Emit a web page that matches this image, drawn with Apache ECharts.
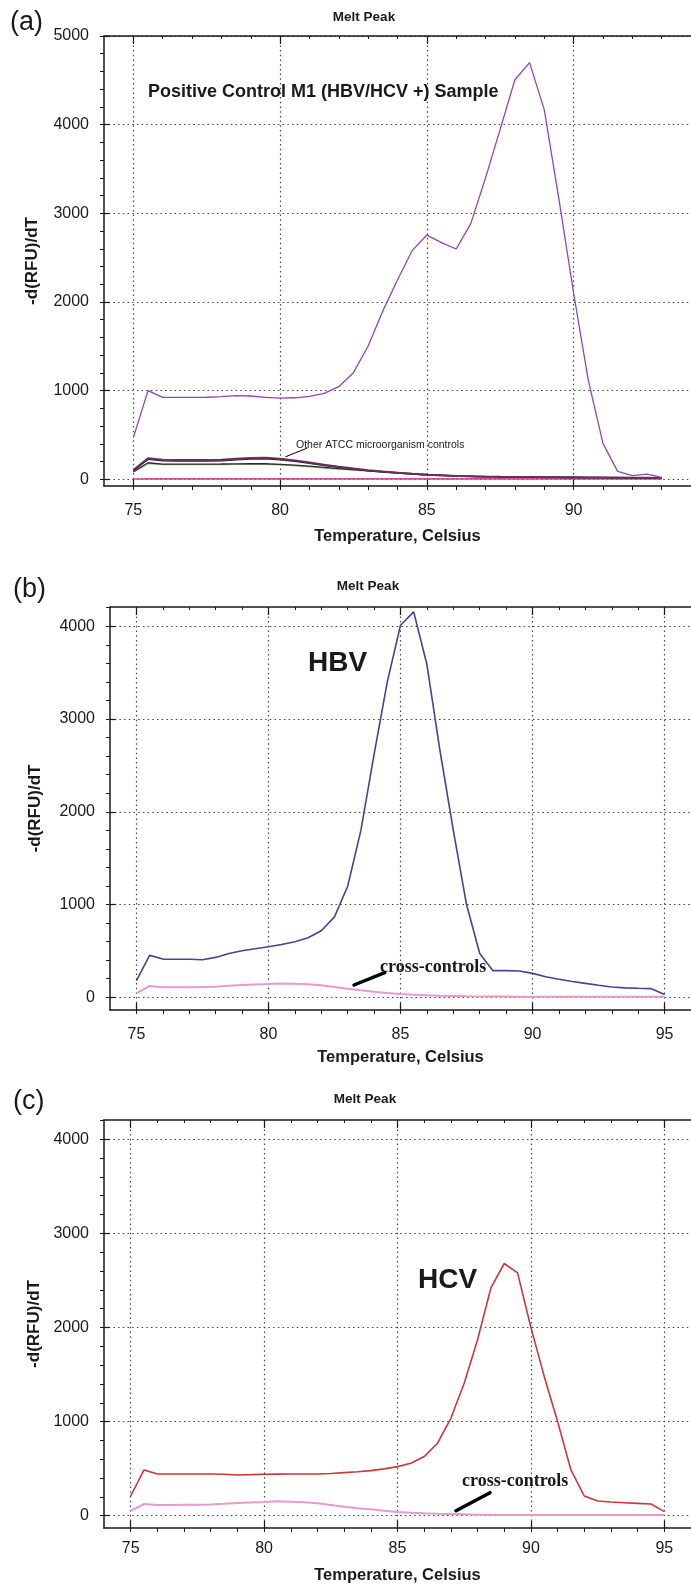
<!DOCTYPE html>
<html><head><meta charset="utf-8">
<script src="https://cdn.jsdelivr.net/npm/echarts@6/dist/echarts.min.js"></script>
<style>html,body{margin:0;padding:0;background:#fff}#c{width:691px;height:1587px}</style>
</head><body><div id="c"></div>
<script>
// ---------- DATA ----------
const tempsA = [75,75.5,76,76.5,77,77.5,78,78.5,79,79.5,80,80.5,81,81.5,82,82.5,83,83.5,84,84.5,85,85.5,86,86.5,87,87.5,88,88.5,89,89.5,90,90.5,91,91.5,92,92.5,93];
const positiveM1 = [470,1000,925,925,925,926,932,945,940,925,917,920,935,970,1045,1203,1504,1900,2248,2580,2755,2670,2598,2887,3400,3950,4507,4700,4170,3160,2100,1120,406,90,41,60,23];
const atccMaroon = [105,237,220,218,218,218,222,232,242,244,232,214,190,165,142,122,103,88,75,62,52,45,38,34,30,28,27,26,25,24,22,21,20,19,18,17,16];
const atccDark   = [98,225,208,206,206,206,210,220,229,231,220,203,180,156,134,115,97,82,70,58,48,42,36,32,28,26,25,24,23,22,21,20,19,18,17,16,15];
const atccBlack  = [86,187,172,172,172,172,173,175,176,176,170,160,148,135,122,110,98,86,75,64,55,47,40,35,32,30,28,27,26,25,24,23,22,21,20,19,18];
const atccGreen  = [80,178,165,165,165,165,166,168,169,169,163,153,140,128,116,104,93,82,71,61,52,45,38,33,30,28,26,25,24,23,22,21,20,19,18,17,16];
const atccPink   = [4,6,5,5,5,5,5,5,5,5,5,5,5,5,5,5,5,5,5,5,5,5,5,5,5,5,5,5,5,5,5,5,5,5,5,5,5];

const tempsBC = [75,75.5,76,76.5,77,77.5,78,78.5,79,79.5,80,80.5,81,81.5,82,82.5,83,83.5,84,84.5,85,85.5,86,86.5,87,87.5,88,88.5,89,89.5,90,90.5,91,91.5,92,92.5,93,93.5,94,94.5,95];
const hbv      = [179,452,412,410,410,405,430,473,502,523,545,570,599,642,717,867,1197,1799,2620,3401,4011,4155,3588,2650,1800,1000,473,287,287,284,258,222,194,170,150,130,111,102,97,93,29];
const hbvCross = [43,122,108,108,108,110,115,124,133,139,143,150,147,140,129,112,93,76,61,47,36,28,22,17,14,11,9,8,8,7,7,7,7,6,6,6,6,6,6,6,5];
const hcv      = [209,486,443,443,443,443,443,440,433,436,440,442,443,443,443,448,457,466,479,497,521,557,628,770,1035,1408,1869,2420,2680,2580,2000,1480,1000,486,209,156,145,138,131,124,43];
const hcvCross = [50,124,113,113,115,117,120,127,135,140,145,152,149,142,131,114,96,80,67,52,39,31,25,21,18,14,11,9,8,7,7,7,7,7,7,7,7,7,7,7,6];

const xTicksA  = [75,80,85,90];
const xTicksBC = [75,80,85,90,95];
const yTicksA  = [0,1000,2000,3000,4000,5000];
const yTicksBC = [0,1000,2000,3000,4000];

// ---------- CHART ----------
const FONT = "'Liberation Sans', Arial, sans-serif";
const INK = '#1a1a1a';
const plain = v => String(v);
function steps(a,b,s){const r=[];for(let v=a;v<=b+1e-9;v+=s)r.push(Math.round(v*1000)/1000);return r;}

const panels = [
  {grid:{left:104, top:36, width:593, height:450}, x:[74,94], y:[-75,5000], xMaj:xTicksA, yMaj:yTicksA,
   xMin:steps(75,93,1), yMin:steps(0,5000,200), xGap:42, yGap:63, xMargin:17},
  {grid:{left:110, top:607, width:588.5, height:403}, x:[74,96], y:[-137,4208], xMaj:xTicksBC, yMaj:yTicksBC,
   xMin:steps(75,95,1), yMin:steps(0,4200,200), xGap:39, yGap:66, xMargin:17},
  {grid:{left:104, top:1120, width:595, height:408}, x:[74,96], y:[-131,4205], xMaj:xTicksBC, yMaj:yTicksBC,
   xMin:steps(75,95,1), yMin:steps(0,4200,200), xGap:39, yGap:61, xMargin:13}
];

const grids=[], xAxes=[], yAxes=[];
const dotted = {type:[1.5,3.2], color:'#444', width:1.2};
panels.forEach((p,g)=>{
  grids.push(Object.assign({show:false, containLabel:false}, p.grid));
  xAxes.push({type:'value', gridIndex:g, min:p.x[0], max:p.x[1], position:'bottom',
    axisLine:{show:true,onZero:false,lineStyle:{color:INK,width:1.5}},
    axisTick:{show:true,inside:false,length:4,customValues:p.xMin,lineStyle:{color:INK,width:1}},
    axisLabel:{show:true,customValues:p.xMaj,formatter:plain,margin:p.xMargin,fontSize:16,fontFamily:FONT,color:INK},
    splitLine:{show:false},
    name:'Temperature, Celsius', nameLocation:'middle', nameGap:p.xGap,
    nameTextStyle:{fontFamily:FONT,fontWeight:'bold',fontSize:16.5,color:INK}});
  xAxes.push({type:'value', gridIndex:g, min:p.x[0], max:p.x[1], position:'bottom', offset:0,
    axisLine:{show:false,onZero:false},
    axisTick:{show:true,inside:true,length:7,customValues:p.xMaj,lineStyle:{color:INK,width:1.2}},
    axisLabel:{show:false}, splitLine:{show:true,lineStyle:dotted}});
  xAxes.push({type:'value', gridIndex:g, min:p.x[0], max:p.x[1], position:'top',
    axisLine:{show:true,onZero:false,lineStyle:{color:INK,width:1.5}},
    axisTick:{show:true,inside:true,length:3,customValues:p.xMin,lineStyle:{color:INK,width:1}},
    axisLabel:{show:false}, splitLine:{show:false}});
  xAxes.push({type:'value', gridIndex:g, min:p.x[0], max:p.x[1], position:'top', offset:0,
    axisLine:{show:false,onZero:false},
    axisTick:{show:true,inside:true,length:8,customValues:p.xMaj,lineStyle:{color:INK,width:1.2}},
    axisLabel:{show:false}, splitLine:{show:false}});
  yAxes.push({type:'value', gridIndex:g, min:p.y[0], max:p.y[1], position:'left',
    axisLine:{show:true,onZero:false,lineStyle:{color:INK,width:1.5}},
    axisTick:{show:true,inside:false,length:4,customValues:p.yMin,lineStyle:{color:INK,width:1}},
    axisLabel:{show:true,customValues:p.yMaj,formatter:plain,margin:15,fontSize:16,fontFamily:FONT,color:INK},
    splitLine:{show:false},
    name:'-d(RFU)/dT', nameLocation:'middle', nameRotate:90, nameGap:p.yGap,
    nameTextStyle:{fontFamily:FONT,fontWeight:'bold',fontSize:17,color:INK}});
  yAxes.push({type:'value', gridIndex:g, min:p.y[0], max:p.y[1], position:'left', offset:0,
    axisLine:{show:false,onZero:false},
    axisTick:{show:true,inside:true,length:6,customValues:p.yMaj,lineStyle:{color:INK,width:1.2}},
    axisLabel:{show:false}, splitLine:{show:true,lineStyle:dotted}});
});

function line(g, xs, ys, color, width, z){
  return {type:'line', xAxisIndex:4*g, yAxisIndex:2*g, data:xs.map((t,i)=>[t,ys[i]]),
    showSymbol:false, symbol:'none', silent:true, animation:false, z:z||2,
    lineStyle:{color:color,width:width}, itemStyle:{color:color}};
}
const series = [
  line(0,tempsA,atccPink,'#d04e9c',1.6),
  line(0,tempsA,atccGreen,'#7cc27c',1.3),
  line(0,tempsA,atccBlack,'#2b2b2b',1.3),
  line(0,tempsA,atccDark,'#222222',1.3),
  line(0,tempsA,atccMaroon,'#6d2d5a',2),
  line(0,tempsA,positiveM1,'#8a48bd',1.3,3),
  line(1,tempsBC,hbvCross,'#e89bcb',2),
  line(1,tempsBC,hbv,'#46438f',1.6,3),
  line(2,tempsBC,hcvCross,'#e89bcb',2),
  line(2,tempsBC,hcv,'#c83a3a',1.6,3)
];

function txt(x,y,text,font,align){
  return {type:'text', x:x, y:y, silent:true, z:100,
    style:{text:text, font:font, fill:INK, align:align||'left', textAlign:align||'left',
           verticalAlign:'middle', textVerticalAlign:'middle'}};
}
function seg(x1,y1,x2,y2,w){
  return {type:'line', silent:true, z:100, shape:{x1:x1,y1:y1,x2:x2,y2:y2}, style:{stroke:'#000', lineWidth:w, lineCap:'round'}};
}
const SERIF = "'Liberation Serif', 'Times New Roman', serif";
const graphic = [
  txt(10,23,'(a)','27px '+FONT),
  txt(364,17.5,'Melt Peak','bold 13.5px '+FONT,'center'),
  txt(148,92,'Positive Control M1 (HBV/HCV +) Sample','bold 18px '+FONT),
  txt(296,445,'Other ATCC microorganism controls','10.5px '+FONT),
  seg(306.7,448.3,285.7,456.7,1),
  txt(13,590,'(b)','27px '+FONT),
  txt(368,586,'Melt Peak','bold 13.5px '+FONT,'center'),
  txt(308,663,'HBV','bold 28px '+FONT),
  txt(380,967,'cross-controls','bold 18px '+SERIF),
  seg(384.7,972.7,354,985,3.5),
  txt(13,1102,'(c)','27px '+FONT),
  txt(365,1099,'Melt Peak','bold 13.5px '+FONT,'center'),
  txt(418,1280,'HCV','bold 28px '+FONT),
  txt(462,1481,'cross-controls','bold 18px '+SERIF),
  seg(490,1492.7,456,1510.7,3.5)
];

const chart = echarts.init(document.getElementById('c'), null, {renderer:'canvas', width:691, height:1587});
chart.setOption({animation:false, backgroundColor:'#fff', grid:grids, xAxis:xAxes, yAxis:yAxes, series:series, graphic:graphic});
</script>
</body></html>
